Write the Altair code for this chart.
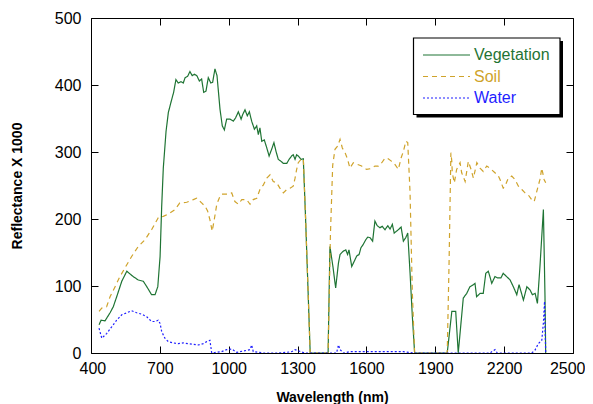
import altair as alt
import pandas as pd

FONT = "Liberation Sans"

series_names = ["Vegetation", "Soil", "Water"]
series_colors = ["#1f7434", "#cfa32b", "#1f1fff"]

veg_nm = [435, 444, 461, 483, 497, 512, 534, 556, 584, 606,
          628, 643, 664, 679, 691, 701, 708, 715, 727, 737,
          749, 760, 770, 780, 792, 802, 810, 821, 831, 841,
          850, 861, 872, 882, 891, 901, 911, 922, 930, 940,
          949, 962, 972, 981, 991, 1006, 1020, 1030, 1042, 1054,
          1061, 1071, 1081, 1090, 1100, 1112, 1122, 1129, 1136, 1144,
          1155, 1166, 1176, 1187, 1197, 1206, 1216, 1228, 1238, 1253,
          1263, 1274, 1281, 1289, 1296, 1303, 1315, 1325, 1335, 1345,
          1355, 1433, 1441, 1454, 1466, 1478, 1485, 1499, 1510, 1518,
          1524, 1536, 1547, 1558, 1568, 1576, 1586, 1597, 1606, 1616,
          1627, 1637, 1647, 1659, 1669, 1681, 1693, 1703, 1713, 1721,
          1732, 1742, 1751, 1761, 1771, 1780, 1790, 1800, 1810, 1952,
          1972, 1989, 2000, 2022, 2037, 2051, 2066, 2073, 2080, 2095,
          2109, 2120, 2131, 2138, 2146, 2160, 2172, 2186, 2196, 2211,
          2226, 2240, 2255, 2265, 2284, 2299, 2313, 2323, 2335, 2345,
          2356, 2371, 2378, 2381]
veg_val = [42, 49, 48, 60, 69, 84, 107, 122, 114, 109,
           107, 99, 87, 87, 99, 144, 219, 276, 331, 359,
           375, 389, 408, 403, 405, 403, 411, 413, 420, 414,
           416, 414, 406, 409, 389, 391, 411, 403, 404, 424,
           414, 364, 339, 333, 349, 349, 346, 351, 360, 349,
           356, 363, 354, 360, 346, 334, 339, 326, 336, 316,
           318, 306, 294, 304, 314, 301, 289, 286, 283, 283,
           289, 294, 296, 289, 296, 294, 289, 290, 200, 100,
           0, 0, 159, 129, 97, 134, 147, 152, 154, 147,
           154, 129, 137, 145, 147, 157, 162, 169, 173, 172,
           167, 197, 190, 187, 189, 184, 190, 185, 192, 179,
           182, 185, 188, 167, 172, 179, 120, 55, 0, 0,
           62, 62, 0, 82, 89, 99, 102, 104, 84, 89,
           89, 119, 122, 114, 104, 114, 112, 112, 119, 114,
           109, 99, 87, 102, 79, 99, 94, 87, 89, 74,
           129, 214, 84, 0]

soil_nm = [435, 447, 468, 483, 505, 526, 548, 577, 606, 635,
           664, 693, 715, 740, 766, 787, 817, 846, 860, 882,
           897, 908, 918, 928, 937, 948, 962, 969, 998, 1013,
           1027, 1042, 1057, 1078, 1093, 1107, 1122, 1136, 1151, 1166,
           1180, 1194, 1209, 1223, 1238, 1253, 1267, 1281, 1289, 1296,
           1303, 1315, 1325, 1335, 1345, 1355, 1433, 1443, 1453, 1463,
           1475, 1485, 1495, 1507, 1518, 1528, 1543, 1565, 1579, 1601,
           1616, 1637, 1652, 1667, 1681, 1695, 1710, 1725, 1739, 1751,
           1761, 1772, 1780, 1790, 1800, 1810, 1952, 1960, 1968, 1972,
           1974, 1983, 1993, 2008, 2015, 2030, 2044, 2056, 2066, 2081,
           2095, 2109, 2124, 2138, 2160, 2175, 2182, 2196, 2204, 2218,
           2233, 2247, 2262, 2277, 2291, 2305, 2320, 2331, 2342, 2356,
           2364, 2374, 2381]
soil_val = [62, 67, 69, 84, 99, 114, 127, 144, 159, 169,
            184, 202, 204, 208, 214, 224, 225, 229, 231, 224,
            219, 212, 199, 182, 199, 222, 234, 237, 237, 239,
            226, 222, 229, 229, 222, 229, 231, 244, 251, 261,
            266, 256, 254, 246, 239, 244, 246, 249, 261, 274,
            284, 289, 290, 200, 100, 0, 0, 175, 280, 304,
            309, 319, 306, 299, 289, 276, 284, 281, 279, 274,
            275, 279, 279, 284, 291, 290, 286, 281, 274, 291,
            301, 316, 314, 240, 90, 0, 0, 134, 299, 286,
            269, 254, 274, 284, 269, 256, 286, 274, 261, 284,
            276, 271, 279, 276, 269, 264, 259, 246, 249, 261,
            264, 259, 249, 244, 239, 236, 229, 226, 241, 259,
            276, 259, 254]

water_nm = [435, 447, 468, 490, 512, 534, 556, 577, 599, 621,
            643, 664, 679, 693, 701, 708, 715, 722, 737, 759,
            780, 802, 824, 846, 867, 889, 904, 918, 926, 969,
            991, 1013, 1035, 1093, 1100, 1107, 1151, 1216, 1253, 1274,
            1289, 1330, 1470, 1478, 1485, 1500, 1528, 1645, 1761, 1810,
            1952, 2140, 2146, 2160, 2170, 2320, 2334, 2349, 2364, 2371,
            2376, 2381]
water_val = [37, 22, 29, 39, 49, 57, 60, 63, 60, 58,
             54, 47, 47, 49, 44, 32, 27, 22, 17, 15,
             14, 15, 14, 13, 12, 14, 17, 19, 0, 2,
             5, 6, 1, 5, 12, 2, 0, 0, 1, 2,
             5, 0, 0, 12, 5, 0, 2, 2, 2, 0,
             0, 0, 2, 5, 0, 0, 4, 14, 19, 45,
             77, 0]

x_ticks = [400, 700, 1000, 1300, 1600, 1900, 2200, 2500]
y_ticks = [0, 100, 200, 300, 400, 500]

rows = []
for name, xs, ys in [("Vegetation", veg_nm, veg_val),
                     ("Soil", soil_nm, soil_val),
                     ("Water", water_nm, water_val)]:
    assert len(xs) == len(ys), (name, len(xs), len(ys))
    for a, b in zip(xs, ys):
        rows.append({"nm": a, "val": b, "series": name})
df = pd.DataFrame(rows)

x_scale = alt.Scale(domain=[400, 2500], nice=False, zero=False)
y_scale = alt.Scale(domain=[0, 500], nice=False)

lines = alt.Chart(df).mark_line(strokeWidth=1.2, clip=True).encode(
    x=alt.X("nm:Q", scale=x_scale,
            axis=alt.Axis(values=x_ticks, title="Wavelength (nm)", orient="bottom",
                          offset=-7, tickSize=7, domain=False, grid=False,
                          labelFlush=True, labelFlushOffset=12,
                          labelPadding=7, titlePadding=14, format="d")),
    y=alt.Y("val:Q", scale=y_scale,
            axis=alt.Axis(values=y_ticks, title="Reflectance X 1000", orient="left",
                          offset=-7, tickSize=7, domain=False, grid=False, labelFlush=False,
                          labelPadding=10, titlePadding=30, format="d")),
    color=alt.Color("series:N", scale=alt.Scale(domain=series_names, range=series_colors), legend=None),
    strokeDash=alt.StrokeDash("series:N",
                              scale=alt.Scale(domain=series_names, range=[[1, 0], [5, 4], [2, 2]]),
                              legend=None),
)

frame = alt.Chart(df).mark_line(opacity=0).encode(
    x=alt.X("nm:Q", scale=x_scale,
            axis=alt.Axis(values=x_ticks, orient="top", offset=-7, tickSize=7,
                          labels=False, domain=False, grid=False), title=None),
    y=alt.Y("val:Q", scale=y_scale,
            axis=alt.Axis(values=y_ticks, orient="right", offset=-7, tickSize=7,
                          labels=False, domain=False, grid=False), title=None),
    detail="series:N",
)

one = pd.DataFrame({"k": [0]})
shadow = alt.Chart(one).mark_rect(color="black").encode(
    x=alt.value(325.5), x2=alt.value(472), y=alt.value(23), y2=alt.value(99.5))
box = alt.Chart(one).mark_rect(fill="white", stroke="black", strokeWidth=1.2).encode(
    x=alt.value(322.5), x2=alt.value(469), y=alt.value(20), y2=alt.value(96.5))

leg_layers = []
leg_rows_y = [37, 58.5, 80]
dashes = [[1, 0], [5, 4], [2, 2]]
for name, col, yy, dsh in zip(series_names, series_colors, leg_rows_y, dashes):
    leg_layers.append(alt.Chart(one).mark_rule(color=col, strokeWidth=1.2, strokeDash=dsh).encode(
        x=alt.value(332), x2=alt.value(379), y=alt.value(yy)))
    leg_layers.append(alt.Chart(one).mark_text(
        text=name, color=col, font=FONT, fontSize=16, align="left", baseline="middle").encode(
        x=alt.value(383), y=alt.value(yy)))

chart = alt.layer(lines, frame, shadow, box, *leg_layers).resolve_axis(
    x="independent", y="independent"
).properties(
    width=482, height=335,
    padding={"left": 83, "top": 10, "right": 12, "bottom": 54},
    autosize=alt.AutoSizeParams(type="none"),
).configure_view(
    stroke="black", strokeWidth=1
).configure_axis(
    labelFont=FONT, labelFontSize=16, labelColor="black",
    titleFont=FONT, titleFontSize=14, titleFontWeight="bold", titleColor="black",
    tickColor="black", tickWidth=1,
)

chart.save("out.html", embed_options={"renderer": "svg", "actions": False})
